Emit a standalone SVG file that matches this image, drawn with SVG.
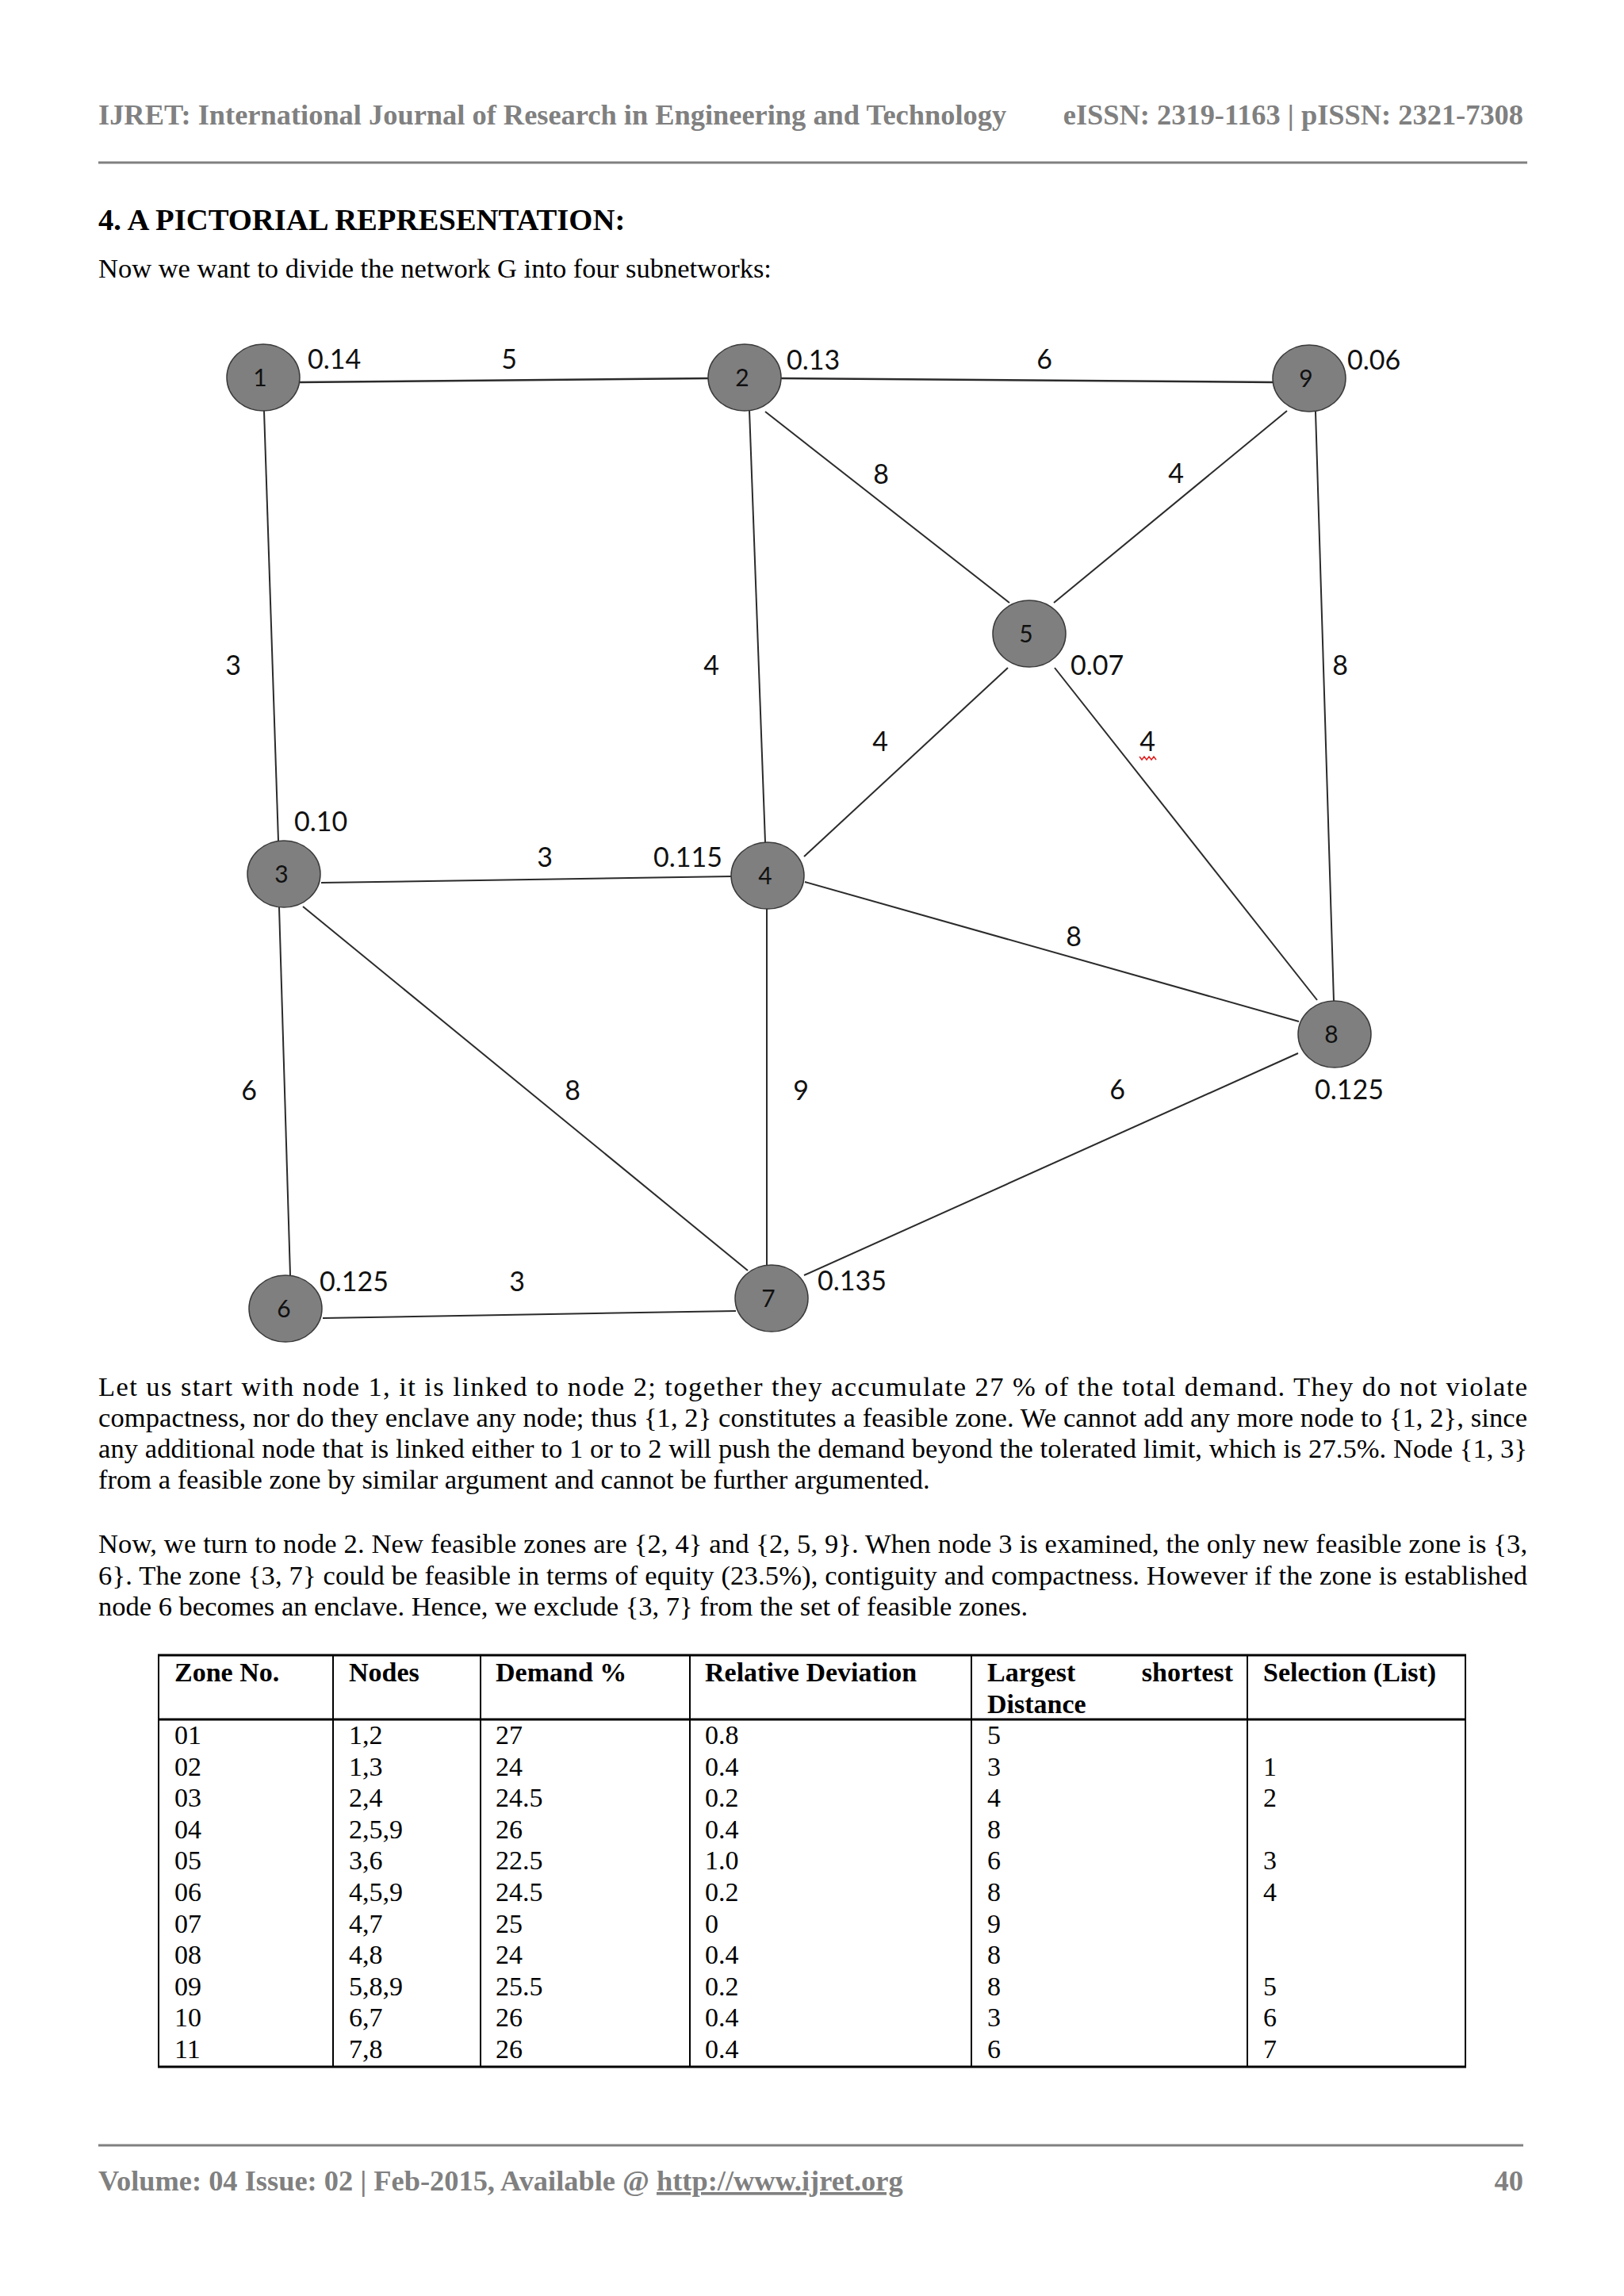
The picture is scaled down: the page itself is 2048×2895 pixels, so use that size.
<svg xmlns="http://www.w3.org/2000/svg" width="2048" height="2895" viewBox="0 0 2048 2895">
<style>
.hdr{font-family:"Liberation Serif","Times New Roman",serif;font-weight:bold;font-size:36.4px;fill:#808080}
.title{font-family:"Liberation Serif","Times New Roman",serif;font-weight:bold;font-size:38.7px;fill:#000}
.body{font-family:"Liberation Serif","Times New Roman",serif;font-size:34.5px;fill:#000}
.th{font-family:"Liberation Serif","Times New Roman",serif;font-weight:bold;font-size:34px;fill:#000}
.td{font-family:"Liberation Serif","Times New Roman",serif;font-size:34px;fill:#000}
.node ellipse{fill:#7f7f7f;stroke:#3a3a3a;stroke-width:1.5}
.nl{font-family:Lato,"Open Sans",sans-serif;font-size:30px;fill:#111;text-anchor:middle}
.el{font-family:Lato,"Open Sans",sans-serif;font-size:34px;fill:#111}
.m{text-anchor:middle}
#edges line{stroke:#2b2b2b;stroke-width:2}
.grid line{stroke:#000;stroke-width:2}
.rule{stroke:#808080;stroke-width:3}
</style>

<!-- page header -->
<text class="hdr" x="124" y="157">IJRET: International Journal of Research in Engineering and Technology</text>
<text class="hdr" x="1921" y="157" text-anchor="end">eISSN: 2319-1163 | pISSN: 2321-7308</text>
<line class="rule" x1="124" y1="205" x2="1926" y2="205"/>

<text class="title" x="124" y="290">4. A PICTORIAL REPRESENTATION:</text>
<text class="body" x="124" y="350">Now we want to divide the network G into four subnetworks:</text>

<!-- connectors -->
<g id="edges">
<line x1="378" y1="482" x2="894" y2="477" style="stroke-width:2.5"/>
<line x1="985" y1="477" x2="1605" y2="482" style="stroke-width:2.5"/>
<line x1="333" y1="518" x2="351" y2="1060"/>
<line x1="945" y1="517" x2="965" y2="1062"/>
<line x1="965" y1="519" x2="1273" y2="760"/>
<line x1="1623" y1="518" x2="1329" y2="760"/>
<line x1="1659" y1="519" x2="1682" y2="1262"/>
<line x1="1271" y1="842" x2="1014" y2="1080"/>
<line x1="1330" y1="842" x2="1661" y2="1261"/>
<line x1="405" y1="1113" x2="923" y2="1105"/>
<line x1="1015" y1="1112" x2="1638" y2="1288"/>
<line x1="352" y1="1144" x2="366" y2="1608"/>
<line x1="382" y1="1143" x2="943" y2="1602"/>
<line x1="967" y1="1146" x2="967" y2="1595"/>
<line x1="1014" y1="1608" x2="1637" y2="1328"/>
<line x1="407" y1="1662" x2="928" y2="1653"/>
</g>

<!-- nodes -->
<g id="node1" class="node"><ellipse cx="332" cy="476" rx="46" ry="42"/><text class="nl" x="328" y="487">1</text></g>
<g id="node2" class="node"><ellipse cx="939" cy="476" rx="46" ry="42"/><text class="nl" x="936" y="487">2</text></g>
<g id="node9" class="node"><ellipse cx="1651" cy="477" rx="46" ry="42"/><text class="nl" x="1647" y="488">9</text></g>
<g id="node5" class="node"><ellipse cx="1298" cy="799" rx="46" ry="42"/><text class="nl" x="1294" y="810">5</text></g>
<g id="node3" class="node"><ellipse cx="358" cy="1102" rx="46" ry="42"/><text class="nl" x="355" y="1113">3</text></g>
<g id="node4" class="node"><ellipse cx="968" cy="1104" rx="46" ry="42"/><text class="nl" x="965" y="1115">4</text></g>
<g id="node8" class="node"><ellipse cx="1683" cy="1304" rx="46" ry="42"/><text class="nl" x="1679" y="1315">8</text></g>
<g id="node6" class="node"><ellipse cx="360" cy="1650" rx="46" ry="42"/><text class="nl" x="358" y="1661">6</text></g>
<g id="node7" class="node"><ellipse cx="973" cy="1637" rx="46" ry="42"/><text class="nl" x="969" y="1648">7</text></g>

<!-- graph labels -->
<g id="labels">
<text class="el" x="388" y="465">0.14</text>
<text class="el m" x="642" y="465">5</text>
<text class="el" x="992" y="466">0.13</text>
<text class="el m" x="1317" y="465">6</text>
<text class="el" x="1699" y="466">0.06</text>
<text class="el m" x="1111" y="610">8</text>
<text class="el m" x="1483" y="609">4</text>
<text class="el m" x="294" y="851">3</text>
<text class="el m" x="897" y="851">4</text>
<text class="el" x="1350" y="851">0.07</text>
<text class="el m" x="1690" y="851">8</text>
<text class="el m" x="1110" y="947">4</text>
<text class="el m" x="1447" y="947">4</text>
<polyline points="1437,954 1440,958 1443,954 1446,958 1449,954 1452,958 1455,954 1458,958" fill="none" stroke="#e02020" stroke-width="1.5"/>
<text class="el" x="371" y="1048">0.10</text>
<text class="el m" x="687" y="1093">3</text>
<text class="el" x="824" y="1093">0.115</text>
<text class="el m" x="1354" y="1193">8</text>
<text class="el m" x="314" y="1387">6</text>
<text class="el m" x="722" y="1387">8</text>
<text class="el m" x="1010" y="1387">9</text>
<text class="el m" x="1409" y="1386">6</text>
<text class="el" x="1658" y="1386">0.125</text>
<text class="el" x="403" y="1628">0.125</text>
<text class="el m" x="652" y="1628">3</text>
<text class="el" x="1031" y="1627">0.135</text>
</g>

<!-- paragraphs -->
<text class="body" x="124" y="1760" textLength="1802" lengthAdjust="spacing">Let us start with node 1, it is linked to node 2; together they accumulate 27 % of the total demand. They do not violate</text>
<text class="body" x="124" y="1799" textLength="1802" lengthAdjust="spacing">compactness, nor do they enclave any node; thus {1, 2} constitutes a feasible zone. We cannot add any more node to {1, 2}, since</text>
<text class="body" x="124" y="1838" textLength="1802" lengthAdjust="spacing">any additional node that is linked either to 1 or to 2 will push the demand beyond the tolerated limit, which is 27.5%. Node {1, 3}</text>
<text class="body" x="124" y="1877">from a feasible zone by similar argument and cannot be further argumented.</text>

<text class="body" x="124" y="1958" textLength="1802" lengthAdjust="spacing">Now, we turn to node 2. New feasible zones are {2, 4} and {2, 5, 9}. When node 3 is examined, the only new feasible zone is {3,</text>
<text class="body" x="124" y="1998" textLength="1802" lengthAdjust="spacing">6}. The zone {3, 7} could be feasible in terms of equity (23.5%), contiguity and compactness. However if the zone is established</text>
<text class="body" x="124" y="2037">node 6 becomes an enclave. Hence, we exclude {3, 7} from the set of feasible zones.</text>

<!-- table -->
<g class="grid">
<line x1="199" y1="2087" x2="1849" y2="2087" style="stroke-width:3"/>
<line x1="199" y1="2168" x2="1849" y2="2168" style="stroke-width:3"/>
<line x1="199" y1="2606" x2="1849" y2="2606" style="stroke-width:3"/>
<line x1="200" y1="2087" x2="200" y2="2606"/>
<line x1="420" y1="2087" x2="420" y2="2606"/>
<line x1="606" y1="2087" x2="606" y2="2606"/>
<line x1="870" y1="2087" x2="870" y2="2606"/>
<line x1="1225" y1="2087" x2="1225" y2="2606"/>
<line x1="1573" y1="2087" x2="1573" y2="2606"/>
<line x1="1848" y1="2087" x2="1848" y2="2606"/>
</g>
<g class="th">
<text x="220" y="2120">Zone No.</text>
<text x="440" y="2120">Nodes</text>
<text x="625" y="2120">Demand %</text>
<text x="889" y="2120">Relative Deviation</text>
<text x="1245" y="2120">Largest</text>
<text x="1555" y="2120" text-anchor="end">shortest</text>
<text x="1245" y="2160">Distance</text>
<text x="1593" y="2120">Selection (List)</text>
</g>
<g class="td">
<text x="220" y="2199">01</text><text x="440" y="2199">1,2</text><text x="625" y="2199">27</text><text x="889" y="2199">0.8</text><text x="1245" y="2199">5</text>
<text x="220" y="2238.6">02</text><text x="440" y="2238.6">1,3</text><text x="625" y="2238.6">24</text><text x="889" y="2238.6">0.4</text><text x="1245" y="2238.6">3</text><text x="1593" y="2238.6">1</text>
<text x="220" y="2278.2">03</text><text x="440" y="2278.2">2,4</text><text x="625" y="2278.2">24.5</text><text x="889" y="2278.2">0.2</text><text x="1245" y="2278.2">4</text><text x="1593" y="2278.2">2</text>
<text x="220" y="2317.8">04</text><text x="440" y="2317.8">2,5,9</text><text x="625" y="2317.8">26</text><text x="889" y="2317.8">0.4</text><text x="1245" y="2317.8">8</text>
<text x="220" y="2357.4">05</text><text x="440" y="2357.4">3,6</text><text x="625" y="2357.4">22.5</text><text x="889" y="2357.4">1.0</text><text x="1245" y="2357.4">6</text><text x="1593" y="2357.4">3</text>
<text x="220" y="2397">06</text><text x="440" y="2397">4,5,9</text><text x="625" y="2397">24.5</text><text x="889" y="2397">0.2</text><text x="1245" y="2397">8</text><text x="1593" y="2397">4</text>
<text x="220" y="2436.6">07</text><text x="440" y="2436.6">4,7</text><text x="625" y="2436.6">25</text><text x="889" y="2436.6">0</text><text x="1245" y="2436.6">9</text>
<text x="220" y="2476.2">08</text><text x="440" y="2476.2">4,8</text><text x="625" y="2476.2">24</text><text x="889" y="2476.2">0.4</text><text x="1245" y="2476.2">8</text>
<text x="220" y="2515.8">09</text><text x="440" y="2515.8">5,8,9</text><text x="625" y="2515.8">25.5</text><text x="889" y="2515.8">0.2</text><text x="1245" y="2515.8">8</text><text x="1593" y="2515.8">5</text>
<text x="220" y="2555.4">10</text><text x="440" y="2555.4">6,7</text><text x="625" y="2555.4">26</text><text x="889" y="2555.4">0.4</text><text x="1245" y="2555.4">3</text><text x="1593" y="2555.4">6</text>
<text x="220" y="2595">11</text><text x="440" y="2595">7,8</text><text x="625" y="2595">26</text><text x="889" y="2595">0.4</text><text x="1245" y="2595">6</text><text x="1593" y="2595">7</text>
</g>

<!-- footer -->
<line class="rule" x1="124" y1="2705" x2="1921" y2="2705"/>
<text class="hdr" x="124" y="2762">Volume: 04 Issue: 02 | Feb-2015, Available @ <tspan text-decoration="underline">http://www.ijret.org</tspan></text>
<text class="hdr" x="1921" y="2762" text-anchor="end">40</text>
</svg>
